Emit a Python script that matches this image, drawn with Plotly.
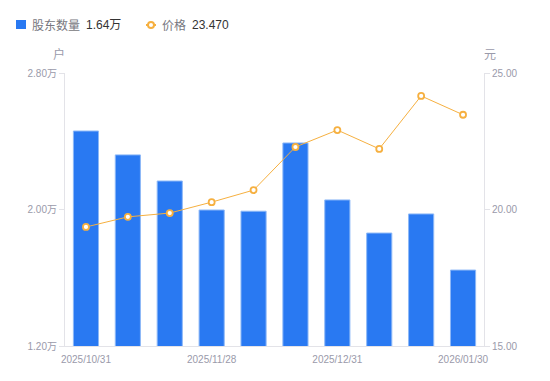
import plotly.graph_objects as go

dates = ["2025/10/31", "2025/11/10", "2025/11/20", "2025/11/28", "2025/12/10",
         "2025/12/19", "2025/12/31", "2026/01/09", "2026/01/20", "2026/01/30"]
holders = [2.46, 2.32, 2.167, 1.997, 1.99, 2.39, 2.056, 1.862, 1.974, 1.645]  # 万户
price = [19.36, 19.73, 19.87, 20.27, 20.71, 22.29, 22.91, 22.22, 24.16, 23.47]
left_ticks = [1.2, 2.0, 2.8]
right_ticks = [15, 20, 25]
shown_dates = [dates[0], dates[3], dates[6], dates[9]]

blue = "#2979F2"
orange = "#F6B040"
gray = "#9A9AAA"
dark = "#333333"
legend_gray = "#777780"
font = "Liberation Sans, Arial, Noto Sans CJK SC, sans-serif"

fig = go.Figure()
fig.add_trace(go.Bar(
    x=dates, y=holders, width=0.6,
    marker=dict(color=blue, line=dict(color="#8DB8F7", width=1)),
    name="股东数量", yaxis="y", hoverinfo="skip", showlegend=False,
))
fig.add_trace(go.Scatter(
    x=dates, y=price, mode="lines+markers", yaxis="y2",
    line=dict(color=orange, width=1),
    marker=dict(symbol="circle", size=6, color="white", line=dict(color=orange, width=1.8)),
    name="价格", hoverinfo="skip", showlegend=False,
))

# legend drawn manually (pixel offsets from top-left of plot area)
shapes = [
    dict(type="rect", xref="paper", yref="paper", xsizemode="pixel", ysizemode="pixel",
         xanchor=0, yanchor=1, x0=-49, x1=-39, y0=44, y1=53,
         fillcolor=blue, line=dict(width=0)),
    dict(type="line", xref="paper", yref="paper", xsizemode="pixel", ysizemode="pixel",
         xanchor=0, yanchor=1, x0=81, x1=91, y0=48, y1=48,
         line=dict(color=orange, width=2)),
    dict(type="circle", xref="paper", yref="paper", xsizemode="pixel", ysizemode="pixel",
         xanchor=0, yanchor=1, x0=83, x1=89, y0=45, y1=51,
         fillcolor="white", line=dict(color=orange, width=2)),
]

def ann(text, xs, color, size=12):
    return dict(text=text, xref="paper", yref="paper", x=0, y=1, xshift=xs, yshift=48,
                xanchor="left", yanchor="middle", showarrow=False,
                font=dict(size=size, color=color))

fig.update_layout(
    width=550, height=381,
    margin=dict(l=65, r=66, t=73, b=35),
    paper_bgcolor="white", plot_bgcolor="white",
    font=dict(family=font, size=12, color=gray),
    bargap=0.4,
    showlegend=False,
    shapes=shapes,
    xaxis=dict(type="category", tickmode="array", tickvals=shown_dates, ticktext=shown_dates,
               range=[-0.5, 9.5],
               showline=True, linecolor="#E3E3E8", linewidth=1, ticks="",
               ticklabelstandoff=4,
               tickfont=dict(size=10, color=gray), showgrid=False, zeroline=False),
    yaxis=dict(range=[1.2, 2.8], tickvals=left_ticks,
               ticktext=["%.2f万" % v for v in left_ticks],
               showline=True, linecolor="#E3E3E8", linewidth=1,
               ticks="outside", ticklen=5, tickcolor="#E3E3E8",
               tickfont=dict(size=10, color=gray), showgrid=False, zeroline=False),
    yaxis2=dict(range=[15, 25], tickvals=right_ticks,
                ticktext=["%.2f" % v for v in right_ticks],
                overlaying="y", side="right",
                showline=True, linecolor="#E3E3E8", linewidth=1,
                ticks="outside", ticklen=5, tickcolor="#E3E3E8",
                tickfont=dict(size=10, color=gray), showgrid=False, zeroline=False),
    annotations=[
        dict(text="户", xref="paper", yref="paper", x=0, y=1, xshift=-6, yshift=9,
             xanchor="center", yanchor="bottom", showarrow=False,
             font=dict(size=12, color=gray)),
        dict(text="元", xref="paper", yref="paper", x=1, y=1, xshift=6, yshift=9,
             xanchor="center", yanchor="bottom", showarrow=False,
             font=dict(size=12, color=gray)),
        ann("股东数量", -35, legend_gray),
        ann("1.64万", 19, dark),
        ann("价格", 95, legend_gray),
        ann("23.470", 125, dark),
    ],
)

fig.write_html("out.html", config={"displayModeBar": False},
               post_script="document.body.style.margin='0';")
